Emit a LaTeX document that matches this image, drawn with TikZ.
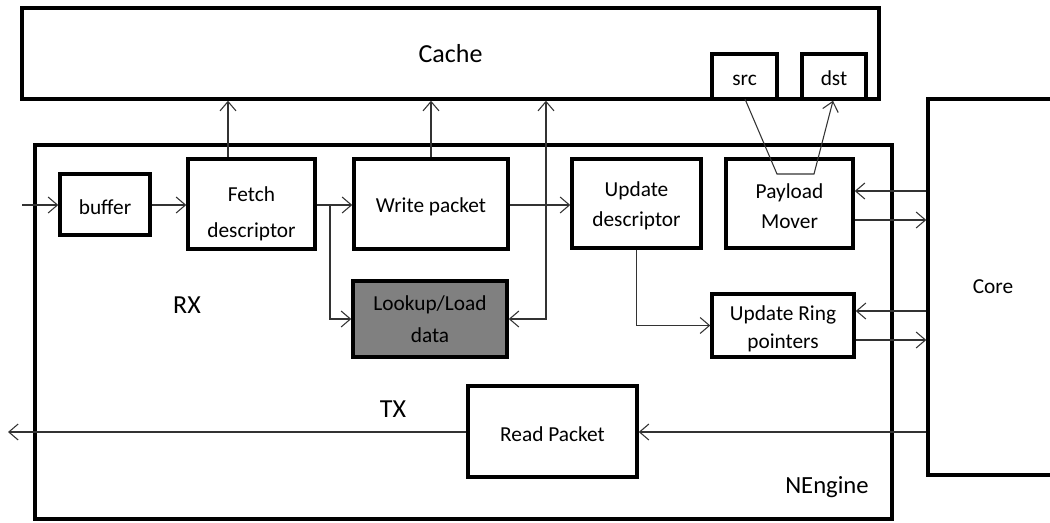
\documentclass[tikz,border=0pt]{standalone}
\usepackage{fontspec}
\setmainfont{Carlito}
\usetikzlibrary{arrows.meta}
\newcommand{\dn}{\rule{0pt}{15pt}}
\begin{document}
\begin{tikzpicture}[x=0.75pt,y=-0.75pt,
  blk/.style={draw, line width=2.6pt, fill=white, inner sep=0pt, align=center,
              font=\fontsize{16}{22.5}\selectfont},
  big/.style={inner sep=0pt, font=\fontsize{19.5}{24}\selectfont},
  arr/.style={draw=black!80, line width=0.8pt, -{Straight Barb[length=7pt,width=12pt]}},
  darr/.style={draw=black!80, line width=0.8pt, {Straight Barb[length=7pt,width=12pt]}-{Straight Barb[length=7pt,width=12pt]}},
  ln/.style={draw=black!80, line width=0.8pt}]
\useasboundingbox (0,0) rectangle (1050,522);
\clip (0,0) rectangle (1050,522);
% Cache
\node[blk, minimum width=642.75pt, minimum height=68.25pt, font=\fontsize{19.5}{24}\selectfont] (cache) at (450.5,53.5) {Cache};
\node[blk, minimum width=48.75pt, minimum height=33.75pt] (src) at (744.5,76.5) {\rule{0pt}{13.5pt}src};
\node[blk, minimum width=48pt, minimum height=33.75pt] (dst) at (834,76.5) {\rule{0pt}{13.5pt}dst};
% NEngine
\node[blk, minimum width=642.75pt, minimum height=280.5pt] (ne) at (463.5,332) {};
\node[big, font=\fontsize{18.5}{22}\selectfont] (nelabel) at (827,487) {NEngine};
% Core
\node[blk, minimum width=97.5pt, minimum height=282pt] (core) at (993,287) {Core};
% Boxes
\node[blk, minimum width=67.5pt, minimum height=45.75pt] (buffer) at (105,204.5) {\dn buffer};
\node[blk, minimum width=95.25pt, minimum height=67.5pt] (fetch) at (251.5,204) {\rule{0pt}{26pt}Fetch\\[5pt]descriptor};
\node[blk, minimum width=115.5pt, minimum height=67.5pt] (write) at (431,204) {\dn Write packet};
\node[blk, minimum width=96.75pt, minimum height=66.75pt] (upd) at (636.5,203.5) {\dn Update\\descriptor};
\node[blk, minimum width=95.25pt, minimum height=66.75pt] (pay) at (789.5,203.5) {\dn Payload\\Mover};
\node[blk, minimum width=115.5pt, minimum height=57pt, fill={rgb,255:red,128;green,128;blue,128}] (look) at (430,319) {Lookup/Load\\[1.5pt]data};
\node[blk, minimum width=106.5pt, minimum height=47.25pt] (ring) at (783,325.5) {\rule{0pt}{16pt}Update Ring\\[-1pt]pointers};
\node[blk, minimum width=126.75pt, minimum height=68.25pt] (read) at (552.5,431.5) {\dn Read Packet};
\node[big] (rx) at (187,305) {RX};
\node[big] (tx) at (393,409) {TX};
% coordinates
\coordinate (in0) at (22,205);
\coordinate (out0) at (8,432);
\coordinate (x228) at (228,0);
\coordinate (x330) at (330,0);
\coordinate (x546) at (546,0);
\coordinate (s1) at (745,99);
\coordinate (s2) at (777,174);
\coordinate (s3) at (814,174);
\coordinate (x833) at (833,0);
\coordinate (y191) at (0,191);
\coordinate (y220) at (0,220);
\coordinate (y311) at (0,311);
\coordinate (y340) at (0,340);
\coordinate (y432) at (0,432);
% connectors
\draw[arr] (in0) -- (buffer.west |- in0);
\draw[arr] (buffer.east |- in0) -- (fetch.west |- in0);
\draw[arr] (fetch.east |- in0) -- (write.west |- in0);
\draw[arr] (fetch.east -| x330) |- (look.west);
\draw[arr] (fetch.north -| x228) -- (cache.south -| x228);
\draw[arr] (write.north) -- (cache.south -| write.north);
\draw[darr] (cache.south -| x546) |- (look.east);
\draw[arr] (write.east |- in0) -- (upd.west |- in0);
\draw[arr] (upd.south) |- (ring.west);
\draw[arr] (s1) -- (s2) -- (s3) -- (dst.south -| x833);
\draw[arr] (core.west |- y191) -- (pay.east |- y191);
\draw[arr] (pay.east |- y220) -- (core.west |- y220);
\draw[arr] (core.west |- y311) -- (ring.east |- y311);
\draw[arr] (ring.east |- y340) -- (core.west |- y340);
\draw[arr] (core.west |- y432) -- (read.east |- y432);
\draw[arr] (read.west |- y432) -- (out0);
\end{tikzpicture}
\end{document}
